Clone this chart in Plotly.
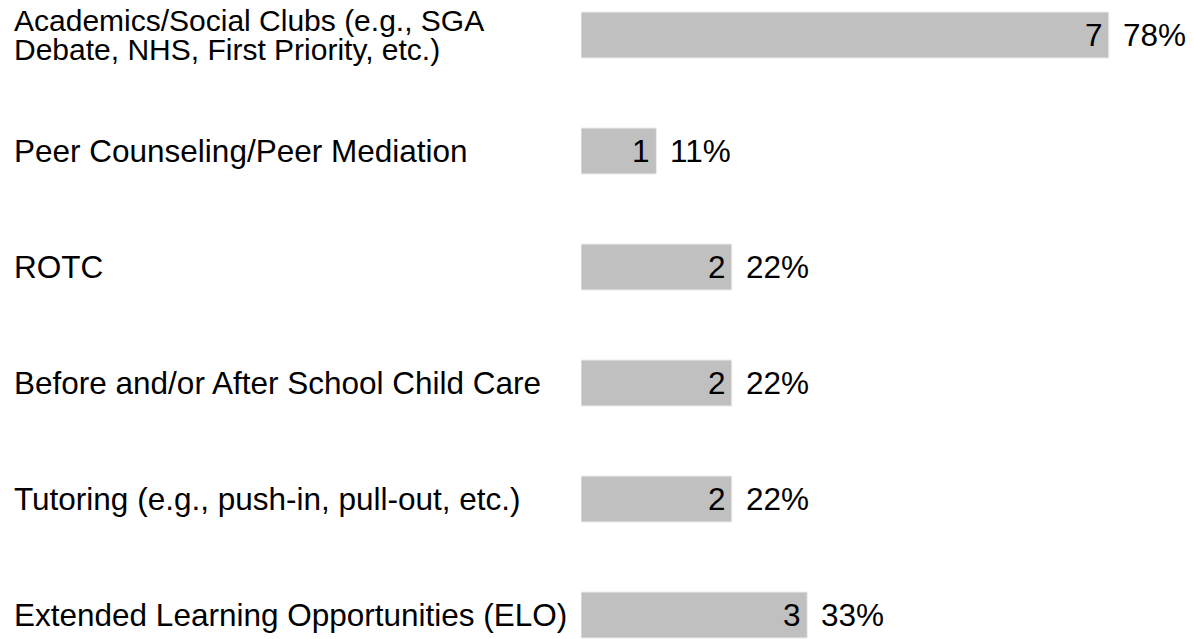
import plotly.graph_objects as go

categories = [
    "Academics/Social Clubs (e.g., SGA<br>Debate, NHS, First Priority, etc.)",
    "Peer Counseling/Peer Mediation",
    "ROTC",
    "Before and/or After School Child Care",
    "Tutoring (e.g., push-in, pull-out, etc.)",
    "Extended Learning Opportunities (ELO)",
]
counts = [7, 1, 2, 2, 2, 3]
percents = ["78%", "11%", "22%", "22%", "22%", "33%"]

FONT = "Liberation Sans, Arial, sans-serif"
FS = 31.5
FS_MULTI = 30

# page has an 8px body margin; compensate
W, H = 1186, 631
PX_PER_UNIT = 75.4
SLOT = 116
TOP = (35 - 8) / SLOT

fig = go.Figure()
fig.add_trace(go.Bar(
    y=list(range(len(categories))),
    x=counts,
    orientation="h",
    width=46 / SLOT,
    marker=dict(color="#c0c0c0", line=dict(color="#ececec", width=1)),
    hoverinfo="skip",
))

annotations = []
for i, (cat, c, p) in enumerate(zip(categories, counts, percents)):
    lines = cat.split("<br>")
    n = len(lines)
    fs = FS if n == 1 else FS_MULTI
    for j, ln in enumerate(lines):
        shift = ((n - 1) / 2 - j) * 29
        annotations.append(dict(
            x=0, xref="paper", xshift=-569, y=i, yref="y", yshift=shift,
            text=ln, showarrow=False, xanchor="left", yanchor="middle", align="left",
            font=dict(family=FONT, size=fs, color="#000"),
        ))
    annotations.append(dict(
        x=c, xref="x", y=i, yref="y", xshift=-4,
        text=str(c), showarrow=False, xanchor="right", yanchor="middle",
        font=dict(family=FONT, size=FS, color="#000"),
    ))
    annotations.append(dict(
        x=c, xref="x", y=i, yref="y", xshift=12,
        text=p, showarrow=False, xanchor="left", yanchor="middle",
        font=dict(family=FONT, size=FS, color="#000"),
    ))

fig.update_layout(
    width=W, height=H,
    margin=dict(l=573, r=0, t=0, b=0),
    paper_bgcolor="white", plot_bgcolor="white",
    showlegend=False,
    xaxis=dict(range=[0, (W - 573) / PX_PER_UNIT], visible=False, fixedrange=True),
    yaxis=dict(range=[-TOP + H / SLOT, -TOP], visible=False, fixedrange=True),
    annotations=annotations,
)

fig.write_html("out.html")
